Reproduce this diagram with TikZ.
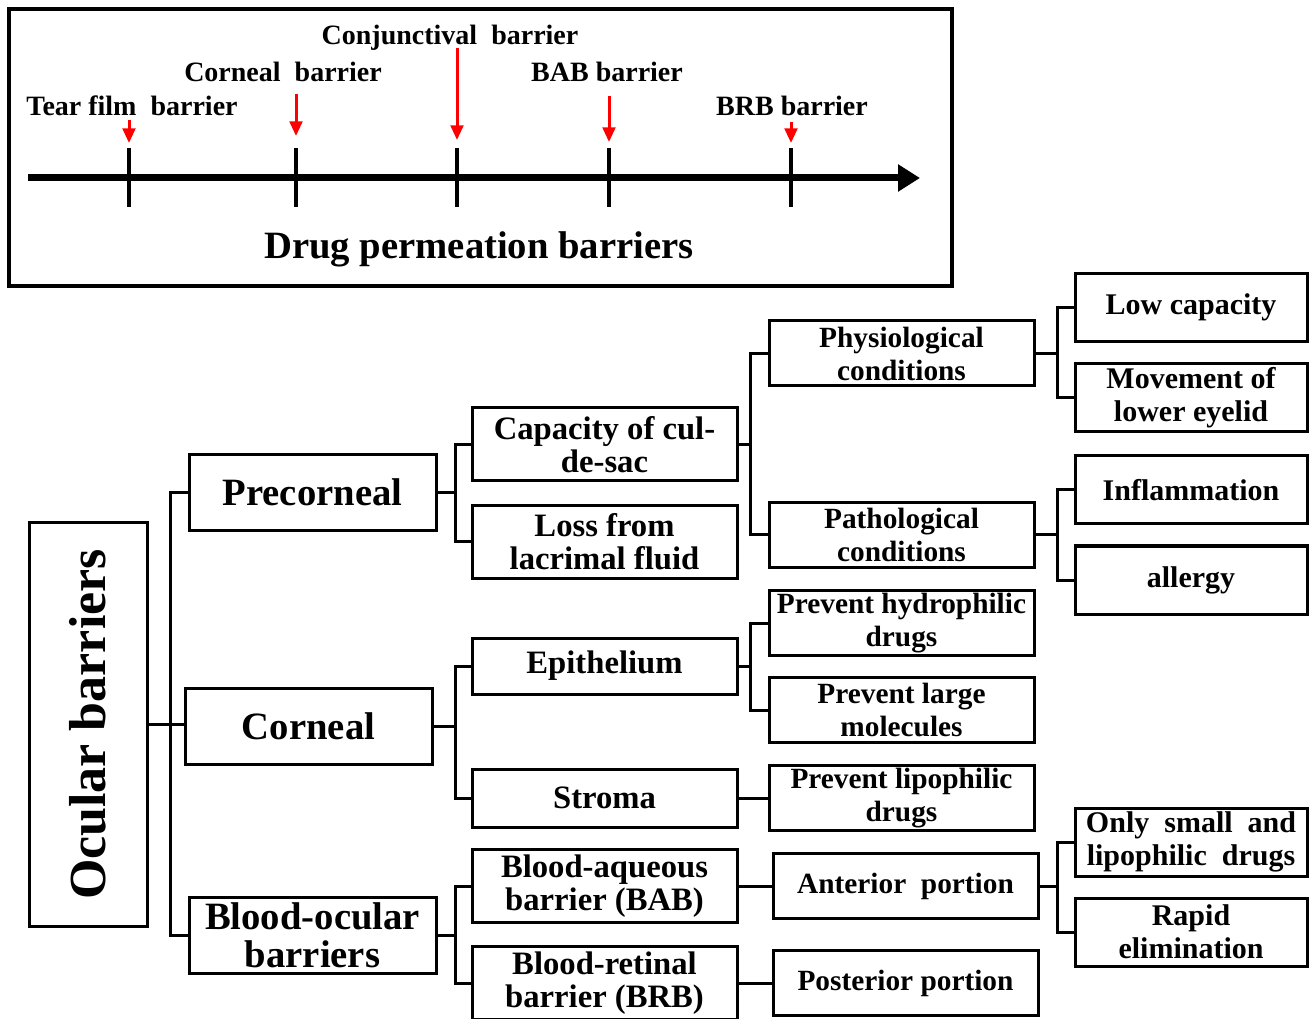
\documentclass[tikz,border=0pt]{standalone}
\usepackage{fontspec}
\setmainfont{Liberation Serif}
\usetikzlibrary{arrows.meta}

\tikzset{
  box/.style={draw, line width=2.25pt, align=center, inner sep=0pt},
  rootbox/.style={box, minimum width=88.5pt, minimum height=302.25pt, font=\bfseries\fontsize{39}{40}\selectfont},
  lone/.style={box, minimum width=185.25pt, minimum height=57pt, font=\bfseries\fontsize{29}{28.5}\selectfont},
  ltwo/.style={box, minimum width=198.75pt, minimum height=54.75pt, font=\bfseries\fontsize{24.5}{24.75}\selectfont},
  lthree/.style={box, minimum width=198.75pt, minimum height=48.75pt, font=\bfseries\fontsize{22}{24.75}\selectfont},
  lfour/.style={box, minimum width=174pt, minimum height=51pt, font=\bfseries\fontsize{22.5}{24.75}\selectfont},
  link/.style={line width=2.25pt},
  toplab/.style={font=\bfseries\fontsize{21}{22}\selectfont, inner sep=0pt},
  tick/.style={line width=2.6pt},
  redarr/.style={color={rgb,255:red,255;green,0;blue,0}, line width=2.25pt, -{Triangle[length=11pt,width=9.5pt]}}
}

\begin{document}
\begin{tikzpicture}[x=0.75pt,y=0.75pt,yscale=-1,xscale=1]
\useasboundingbox (0,0) rectangle (1310,1019);

%Drug permeation barriers panel
\draw [line width=2.6pt] (9,9) rectangle (952,286);
\draw [line width=5.25pt, -{Triangle[length=16.5pt,width=19.5pt]}] (28,178) -- (920,178);
\draw [tick] (129,148) -- (129,207);
\draw [tick] (296,148) -- (296,207);
\draw [tick] (457,148) -- (457,207);
\draw [tick] (609,148) -- (609,207);
\draw [tick] (791,148) -- (791,207);
\draw [redarr] (129,120) -- (129,143);
\draw [redarr] (296,94) -- (296,136);
\draw [redarr] (457,48) -- (457,140);
\draw [redarr] (609,96) -- (609,142);
\draw [redarr] (791,122) -- (791,143);

% Text Node
\node [toplab] (tear) at (132,106) {Tear film\ \ barrier};
% Text Node
\node [toplab] (cornb) at (283,72) {Corneal\ \ barrier};
% Text Node
\node [toplab] (conj) at (450,38) {Conjunctival\ \ barrier};
% Text Node
\node [toplab] (bab) at (607,72) {BAB barrier};
% Text Node
\node [toplab] (brb) at (792,106) {BRB barrier};
% Text Node
\node [font=\bfseries\fontsize{29}{30}\selectfont, inner sep=0pt] (title) at (479,249) {Drug permeation barriers};

%Ocular barriers tree
\node [rootbox] (oc) at (88,724.5) {\rotatebox{90}{Ocular barriers}};

\node [lone] (pre) at (312.5,492.5) {Precorneal};
\node [lone] (cor) at (308.5,726) {Corneal};
\node [lone] (bo) at (312.5,935) {Blood-ocular\\barriers};

\node [ltwo] (cap) at (604.5,444.5) {Capacity of cul-\\de-sac};
\node [ltwo] (loss) at (604.5,542) {Loss from\\lacrimal fluid};
\node [ltwo, minimum height=42pt] (epi) at (604.5,666) {Epithelium};
\node [ltwo, minimum height=43.5pt] (str) at (604.5,798) {Stroma};
\node [ltwo] (bab2) at (604.5,886) {Blood-aqueous\\barrier (BAB)};
\node [ltwo] (brb2) at (604.5,983) {Blood-retinal\\barrier (BRB)};

\node [lthree] (phy) at (901.5,353.5) {Physiological\\conditions};
\node [lthree] (pat) at (901.5,535) {Pathological\\conditions};
\node [lthree] (hyd) at (901.5,623) {Prevent hydrophilic\\drugs};
\node [lthree] (lar) at (901.5,710) {Prevent large\\molecules};
\node [lthree] (lip) at (901.5,798) {Prevent lipophilic\\drugs};
\node [lthree] (ant) at (905.5,886) {Anterior\ \ portion};
\node [lthree] (pos) at (905.5,983) {Posterior portion};

\node [lfour] (low) at (1191,307.5) {Low capacity};
\node [lfour] (mov) at (1191,398) {Movement of\\lower eyelid};
\node [lfour] (inf) at (1191,490) {Inflammation};
\node [lfour] (all) at (1191,580) {allergy};
\node [lfour] (sma) at (1191,842) {Only\ \ small\ \ and\\lipophilic\ \ drugs};
\node [lfour] (rap) at (1191,932) {Rapid\\elimination};

%bus lines
\coordinate (b0) at (170,0);
\coordinate (b1) at (455,0);
\coordinate (b2) at (750,0);
\coordinate (b3) at (1057,0);

\draw [link] (oc.east) -- (oc.east -| cor.west);
\draw [link] (pre.west) -- (pre.west -| b0) |- (bo.west);

\draw [link] (pre.east) -- (pre.east -| b1);
\draw [link] (cap.west) -- (cap.west -| b1) |- (loss.west);
\draw [link] (cor.east) -- (cor.east -| b1);
\draw [link] (epi.west) -- (epi.west -| b1) |- (str.west);
\draw [link] (bo.east) -- (bo.east -| b1);
\draw [link] (bab2.west) -- (bab2.west -| b1) |- (brb2.west);

\draw [link] (cap.east) -- (cap.east -| b2);
\draw [link] (phy.west) -- (phy.west -| b2) |- (pat.west);
\draw [link] (epi.east) -- (epi.east -| b2);
\draw [link] (hyd.west) -- (hyd.west -| b2) |- (lar.west);
\draw [link] (str.east) -- (str.east -| lip.west);
\draw [link] (bab2.east) -- (bab2.east -| ant.west);
\draw [link] (brb2.east) -- (brb2.east -| pos.west);

\draw [link] (phy.east) -- (phy.east -| b3);
\draw [link] (low.west) -- (low.west -| b3) |- (mov.west);
\draw [link] (pat.east) -- (pat.east -| b3);
\draw [link] (inf.west) -- (inf.west -| b3) |- (all.west);
\draw [link] (ant.east) -- (ant.east -| b3);
\draw [link] (sma.west) -- (sma.west -| b3) |- (rap.west);

\end{tikzpicture}
\end{document}
